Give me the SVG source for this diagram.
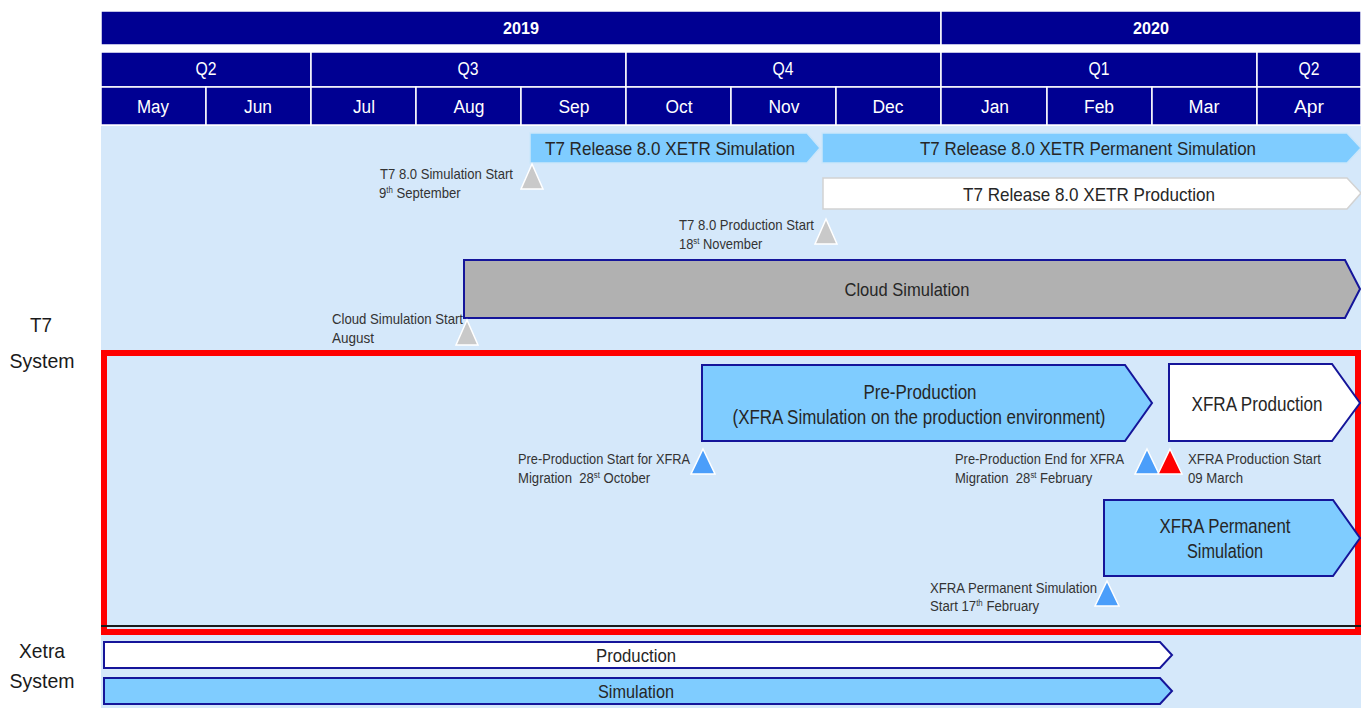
<svg xmlns="http://www.w3.org/2000/svg" width="1361" height="711" viewBox="0 0 1361 711">
<style>
text{font-family:"Liberation Sans Narrow","Arial Narrow","Liberation Sans",Arial,sans-serif}
.hd{fill:#000092;stroke:#ffffff;stroke-width:1.5}
.ht{fill:#ffffff;font-size:18px;text-anchor:middle;dominant-baseline:central}
.yr{font-weight:bold;font-size:17px}
.bar{font-size:19px;fill:#262626;text-anchor:middle;dominant-baseline:central}
.big{font-size:20px}
.lbl{font-size:15px;fill:#333333}
.sup{font-size:9px}
.sl{fill:#7FCCFF;stroke:#CBE6FA;stroke-width:1.5}
.wl{fill:#ffffff;stroke:#D2D2D2;stroke-width:1.5}
.nb{fill:#7FCCFF;stroke:#15159A;stroke-width:2}
.nw{fill:#ffffff;stroke:#15159A;stroke-width:2}
.gt{fill:#C9C9C9;stroke:#ffffff;stroke-width:1.5}
.bt{fill:#4B9EFA;stroke:#ffffff;stroke-width:1.5}
.rt{fill:#FF0000;stroke:#ffffff;stroke-width:1.5}
.side{font-size:21px;fill:#1a1a1a;text-anchor:middle}
</style>
<rect x="0" y="0" width="1361" height="711" fill="#ffffff"/>
<rect id="bg" x="101" y="126" width="1260" height="582" fill="#D5E8FA"/>
<g id="header">
<rect class="hd" x="101" y="11" width="840" height="34"/>
<rect class="hd" x="941" y="11" width="420" height="34"/>
<text class="ht yr" x="521" y="28" textLength="36" lengthAdjust="spacingAndGlyphs">2019</text>
<text class="ht yr" x="1151" y="28" textLength="36" lengthAdjust="spacingAndGlyphs">2020</text>
<rect class="hd" x="101" y="52" width="210" height="35"/>
<rect class="hd" x="311" y="52" width="315" height="35"/>
<rect class="hd" x="626" y="52" width="315" height="35"/>
<rect class="hd" x="941" y="52" width="316" height="35"/>
<rect class="hd" x="1257" y="52" width="104" height="35"/>
<text class="ht" x="206" y="69" textLength="21" lengthAdjust="spacingAndGlyphs">Q2</text>
<text class="ht" x="468" y="69" textLength="21" lengthAdjust="spacingAndGlyphs">Q3</text>
<text class="ht" x="783" y="69" textLength="21" lengthAdjust="spacingAndGlyphs">Q4</text>
<text class="ht" x="1099" y="69" textLength="21" lengthAdjust="spacingAndGlyphs">Q1</text>
<text class="ht" x="1309" y="69" textLength="21" lengthAdjust="spacingAndGlyphs">Q2</text>
<rect class="hd" x="101" y="87" width="105" height="38"/>
<rect class="hd" x="206" y="87" width="105" height="38"/>
<rect class="hd" x="311" y="87" width="105" height="38"/>
<rect class="hd" x="416" y="87" width="105" height="38"/>
<rect class="hd" x="521" y="87" width="105" height="38"/>
<rect class="hd" x="626" y="87" width="105" height="38"/>
<rect class="hd" x="731" y="87" width="105" height="38"/>
<rect class="hd" x="836" y="87" width="105" height="38"/>
<rect class="hd" x="941" y="87" width="106" height="38"/>
<rect class="hd" x="1047" y="87" width="105" height="38"/>
<rect class="hd" x="1152" y="87" width="105" height="38"/>
<rect class="hd" x="1257" y="87" width="104" height="38"/>
<text class="ht" x="153" y="107" textLength="32" lengthAdjust="spacingAndGlyphs">May</text>
<text class="ht" x="258" y="107" textLength="28" lengthAdjust="spacingAndGlyphs">Jun</text>
<text class="ht" x="364" y="107" textLength="22" lengthAdjust="spacingAndGlyphs">Jul</text>
<text class="ht" x="469" y="107" textLength="31" lengthAdjust="spacingAndGlyphs">Aug</text>
<text class="ht" x="574" y="107" textLength="31" lengthAdjust="spacingAndGlyphs">Sep</text>
<text class="ht" x="679" y="107" textLength="27" lengthAdjust="spacingAndGlyphs">Oct</text>
<text class="ht" x="784" y="107" textLength="31" lengthAdjust="spacingAndGlyphs">Nov</text>
<text class="ht" x="888" y="107" textLength="31" lengthAdjust="spacingAndGlyphs">Dec</text>
<text class="ht" x="995" y="107" textLength="28" lengthAdjust="spacingAndGlyphs">Jan</text>
<text class="ht" x="1099" y="107" textLength="30" lengthAdjust="spacingAndGlyphs">Feb</text>
<text class="ht" x="1204" y="107" textLength="31" lengthAdjust="spacingAndGlyphs">Mar</text>
<text class="ht" x="1309" y="107" textLength="30" lengthAdjust="spacingAndGlyphs">Apr</text>
</g>
<g id="side-labels">
<text class="side" x="41" y="332" textLength="22" lengthAdjust="spacingAndGlyphs">T7</text>
<text class="side" x="42" y="368" textLength="65" lengthAdjust="spacingAndGlyphs">System</text>
<text class="side" x="42" y="658" textLength="46" lengthAdjust="spacingAndGlyphs">Xetra</text>
<text class="side" x="42" y="688" textLength="65" lengthAdjust="spacingAndGlyphs">System</text>
</g>
<g id="t7-sim">
<path class="sl" d="M530,133 H807 L820,148 L807,163 H530 Z"/>
<text class="bar" x="670" y="148" textLength="250" lengthAdjust="spacingAndGlyphs">T7 Release 8.0 XETR Simulation</text>
</g>
<g id="t7-perm-sim">
<path class="sl" d="M822,133 H1347 L1361,148 L1347,163 H822 Z"/>
<text class="bar" x="1088" y="148" textLength="336" lengthAdjust="spacingAndGlyphs">T7 Release 8.0 XETR Permanent Simulation</text>
</g>
<g id="t7-prod">
<path class="wl" d="M823,178 H1347 L1361,193 L1347,209 H823 Z"/>
<text class="bar" x="1089" y="194" textLength="252" lengthAdjust="spacingAndGlyphs">T7 Release 8.0 XETR Production</text>
</g>
<g id="m-sim-start">
<path class="gt" d="M532,164 L543,189 L521,189 Z"/>
<text class="lbl" x="380" y="179" textLength="133" lengthAdjust="spacingAndGlyphs">T7 8.0 Simulation Start</text>
<text class="lbl" transform="translate(379,198) scale(0.875,1)">9<tspan class="sup" dy="-5">th</tspan><tspan dy="5"> September</tspan></text>
</g>
<g id="m-prod-start">
<path class="gt" d="M826,219 L837,244 L815,244 Z"/>
<text class="lbl" x="679" y="230" textLength="135" lengthAdjust="spacingAndGlyphs">T7 8.0 Production Start</text>
<text class="lbl" transform="translate(679,249) scale(0.86,1)">18<tspan class="sup" dy="-5">st</tspan><tspan dy="5"> November</tspan></text>
</g>
<g id="cloud-sim">
<path d="M464,260 H1345 L1360,289 L1345,318 H464 Z" fill="#B1B1B1" stroke="#15159A" stroke-width="2"/>
<text class="bar" x="907" y="289" textLength="125" lengthAdjust="spacingAndGlyphs">Cloud Simulation</text>
</g>
<g id="m-cloud-start">
<path class="gt" d="M467,320 L478,345 L456,345 Z"/>
<text class="lbl" x="332" y="324" textLength="131" lengthAdjust="spacingAndGlyphs">Cloud Simulation Start</text>
<text class="lbl" x="332" y="343" textLength="42" lengthAdjust="spacingAndGlyphs">August</text>
</g>
<g id="xfra-box">
<rect x="104" y="353" width="1254" height="279" fill="none" stroke="#FF0000" stroke-width="6"/>
<line x1="101" y1="626" x2="1361" y2="626" stroke="#1a1a1a" stroke-width="2"/>
</g>
<g id="pre-prod">
<path class="nb" d="M702,365 H1125 L1152,403 L1125,441 H702 Z"/>
<text class="bar big" x="920" y="392" textLength="113" lengthAdjust="spacingAndGlyphs">Pre-Production</text>
<text class="bar big" x="919" y="417" textLength="373" lengthAdjust="spacingAndGlyphs">(XFRA Simulation on the production environment)</text>
</g>
<g id="xfra-prod">
<path class="nw" d="M1169,364 H1332 L1360,403 L1332,441 H1169 Z"/>
<text class="bar big" x="1257" y="404" textLength="131" lengthAdjust="spacingAndGlyphs">XFRA Production</text>
</g>
<g id="m-pre-start">
<path class="bt" d="M703,449 L715,474 L691,474 Z"/>
<text class="lbl" x="518" y="464" textLength="172" lengthAdjust="spacingAndGlyphs">Pre-Production Start for XFRA</text>
<text class="lbl" transform="translate(518,483) scale(0.875,1)" xml:space="preserve">Migration  28<tspan class="sup" dy="-5">st</tspan><tspan dy="5"> October</tspan></text>
</g>
<g id="m-pre-end">
<path class="bt" d="M1147,449 L1159,474 L1135,474 Z"/>
<text class="lbl" x="955" y="464" textLength="169" lengthAdjust="spacingAndGlyphs">Pre-Production End for XFRA</text>
<text class="lbl" transform="translate(955,483) scale(0.87,1)" xml:space="preserve">Migration  28<tspan class="sup" dy="-5">st</tspan><tspan dy="5"> February</tspan></text>
</g>
<g id="m-xfra-prod-start">
<path class="rt" d="M1170,449 L1182,474 L1158,474 Z"/>
<text class="lbl" x="1188" y="464" textLength="133" lengthAdjust="spacingAndGlyphs">XFRA Production Start</text>
<text class="lbl" x="1188" y="483" textLength="55" lengthAdjust="spacingAndGlyphs">09 March</text>
</g>
<g id="xfra-perm-sim">
<path class="nb" d="M1104,500 H1333 L1360,538 L1333,576 H1104 Z"/>
<text class="bar big" x="1225" y="526" textLength="131" lengthAdjust="spacingAndGlyphs">XFRA Permanent</text>
<text class="bar big" x="1225" y="551" textLength="76" lengthAdjust="spacingAndGlyphs">Simulation</text>
</g>
<g id="m-perm-start">
<path class="bt" d="M1107,581 L1119,606 L1095,606 Z"/>
<text class="lbl" x="930" y="593" textLength="167" lengthAdjust="spacingAndGlyphs">XFRA Permanent Simulation</text>
<text class="lbl" transform="translate(930,611) scale(0.88,1)">Start 17<tspan class="sup" dy="-5">th</tspan><tspan dy="5"> February</tspan></text>
</g>
<g id="xetra-prod">
<path class="nw" d="M104,642 H1160 L1172,655 L1160,668 H104 Z"/>
<text class="bar" x="636" y="655" textLength="80" lengthAdjust="spacingAndGlyphs">Production</text>
</g>
<g id="xetra-sim">
<path class="nb" d="M104,678 H1160 L1172,691 L1160,704 H104 Z"/>
<text class="bar" x="636" y="691" textLength="76" lengthAdjust="spacingAndGlyphs">Simulation</text>
</g>
<g id="connectors"></g>
</svg>
